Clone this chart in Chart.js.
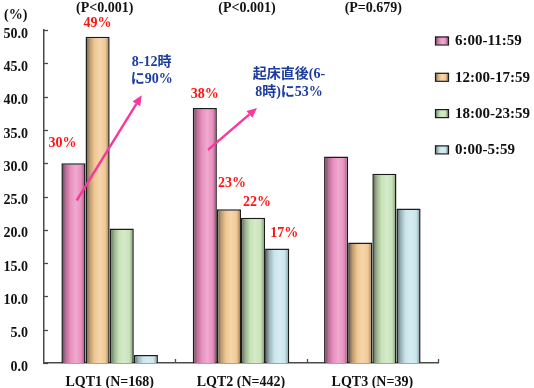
<!DOCTYPE html>
<html>
<head>
<meta charset="utf-8">
<script src="https://cdn.jsdelivr.net/npm/chart.js@4"></script>
<style>
html,body{margin:0;padding:0;background:#fff;}
#wrap{width:534px;height:388px;position:relative;}
</style>
</head>
<body>
<div id="wrap"><canvas id="c" width="534" height="388"></canvas></div>
<script>
// ---- data ----
const categories = ['LQT1 (N=168)', 'LQT2 (N=442)', 'LQT3 (N=39)'];
const seriesLabels = ['6:00-11:59', '12:00-17:59', '18:00-23:59', '0:00-5:59'];
const morning   = [30.0, 38.3, 31.0];
const afternoon = [49.0, 23.1, 18.1];
const evening   = [20.2, 21.8, 28.4];
const night     = [1.2, 17.2, 23.2];
const pValues   = ['(P<0.001)', '(P<0.001)', '(P=0.679)'];
const pctTexts  = ['30%', '49%', '38%', '23%', '22%', '17%'];
const noteLQT1  = ['8-12時', 'に90%'];
const noteLQT2  = ['起床直後(6-', '8時)に53%'];
const yMin = 0, yMax = 50, yStep = 5;

// ---- styles ----
const baseColors = ['#e98fbf', '#f2c892', '#c7e3b7', '#c8e6ec'];
const FONT = "'Liberation Serif', 'Times New Roman', 'Noto Sans CJK JP', serif";

function mix(hex, t, target) {
  const n = parseInt(hex.slice(1), 16);
  let r = n >> 16, g = (n >> 8) & 255, b = n & 255;
  r = Math.round(r + (target - r) * t);
  g = Math.round(g + (target - g) * t);
  b = Math.round(b + (target - b) * t);
  return 'rgb(' + r + ',' + g + ',' + b + ')';
}
function cylGradient(ctx, x0, x1, base) {
  const g = ctx.createLinearGradient(x0, 0, x1, 0);
  g.addColorStop(0, mix(base, 0.58, 0));
  g.addColorStop(0.18, mix(base, 0.22, 0));
  g.addColorStop(0.38, base);
  g.addColorStop(0.6, mix(base, 0.25, 255));
  g.addColorStop(0.82, base);
  g.addColorStop(1, mix(base, 0.4, 0));
  return g;
}

const CAT_PCT = 0.735;
function barBg(dsIndex) {
  return function (c) {
    const chart = c.chart;
    const xs = chart.scales && chart.scales.x;
    if (!xs || c.dataIndex === undefined || !chart.chartArea) return baseColors[dsIndex];
    const cw = xs.width / categories.length;
    const bw = cw * CAT_PCT / seriesLabels.length;
    const cx = xs.getPixelForValue(c.dataIndex);
    const left = cx - cw * CAT_PCT / 2 + dsIndex * bw;
    return cylGradient(chart.ctx, left, left + bw, baseColors[dsIndex]);
  };
}

const seriesData = [morning, afternoon, evening, night];
const datasets = seriesData.map((d, i) => ({
  label: seriesLabels[i],
  data: d,
  backgroundColor: barBg(i),
  borderColor: '#1c1c1c',
  borderWidth: 1.5,
  borderSkipped: 'bottom',
  categoryPercentage: CAT_PCT,
  barPercentage: 1.0
}));

const annotPlugin = {
  id: 'annot',
  afterDraw(chart) {
    const ctx = chart.ctx;
    const xs = chart.scales.x, ys = chart.scales.y;
    const area = chart.chartArea;
    ctx.save();
    // inward tick marks
    ctx.strokeStyle = '#4a4a4a';
    ctx.lineWidth = 1.3;
    ys.ticks.forEach(t => {
      const y = Math.round(ys.getPixelForValue(t.value)) + 0.5;
      ctx.beginPath(); ctx.moveTo(area.left, y); ctx.lineTo(area.left + 4, y); ctx.stroke();
    });
    const cw = xs.width / categories.length;
    for (let i = 1; i <= categories.length; i++) {
      const x = Math.round(area.left + cw * i) + 0.5;
      ctx.beginPath(); ctx.moveTo(x, area.bottom); ctx.lineTo(x, area.bottom - 4); ctx.stroke();
    }
    // (%) label
    ctx.fillStyle = '#111';
    ctx.font = 'bold 14px ' + FONT;
    ctx.textAlign = 'left'; ctx.textBaseline = 'middle';
    ctx.fillText('(%)', 4, 15);
    // p-values
    const pdx = [-5, 6, 1];
    ctx.textAlign = 'center';
    pValues.forEach((p, i) => ctx.fillText(p, xs.getPixelForValue(i) + pdx[i], 8));
    // red % labels anchored to bars
    const anchors = [[0, 0, -11, -20], [1, 0, 0, -13], [0, 1, 0, -14], [1, 1, 3, -26], [2, 1, 4, -15], [3, 1, 7, -15]];
    ctx.fillStyle = '#ff1414';
    ctx.font = 'bold 14px ' + FONT;
    pctTexts.forEach((t, k) => {
      const a = anchors[k];
      const el = chart.getDatasetMeta(a[0]).data[a[1]];
      ctx.fillText(t, el.x + a[2], el.y + a[3]);
    });
    // blue notes
    ctx.fillStyle = '#1c3d9c';
    ctx.font = 'bold 14px ' + FONT;
    const c0 = xs.getPixelForValue(0), c1 = xs.getPixelForValue(1);
    ctx.fillText(noteLQT1[0], c0 + 42, 62);
    ctx.fillText(noteLQT1[1], c0 + 42, 79);
    ctx.fillText(noteLQT2[0], c1 + 48, 74);
    ctx.fillText(noteLQT2[1], c1 + 48, 92);
    // arrows
    function arrow(x0, y0, x1, y1) {
      const ang = Math.atan2(y1 - y0, x1 - x0);
      const hl = 10, hw = 4.5;
      const bx = x1 - hl * Math.cos(ang), by = y1 - hl * Math.sin(ang);
      ctx.strokeStyle = '#f7389c'; ctx.fillStyle = '#f7389c';
      ctx.lineWidth = 2.4;
      ctx.beginPath(); ctx.moveTo(x0, y0); ctx.lineTo(bx, by); ctx.stroke();
      ctx.beginPath();
      ctx.moveTo(x1, y1);
      ctx.lineTo(bx + hw * Math.sin(ang), by - hw * Math.cos(ang));
      ctx.lineTo(bx - hw * Math.sin(ang), by + hw * Math.cos(ang));
      ctx.closePath(); ctx.fill();
    }
    arrow(c0 - 33, ys.getPixelForValue(24.4), c0 + 32, ys.getPixelForValue(40.2));
    arrow(c1 - 33, ys.getPixelForValue(32.0), c1 + 16, ys.getPixelForValue(38.3));
    // legend
    const rowY = [40.5, 76.8, 113.1, 149.4];
    ctx.font = 'bold 15px ' + FONT;
    ctx.textAlign = 'left';
    seriesLabels.forEach((s, i) => {
      const bx = 435, by = rowY[i] - 4, bw = 13, bh = 8;
      ctx.fillStyle = cylGradient(ctx, bx, bx + bw, baseColors[i]);
      ctx.fillRect(bx, by, bw, bh);
      ctx.strokeStyle = '#1c1c1c'; ctx.lineWidth = 1.2;
      ctx.strokeRect(bx + 0.5, by + 0.5, bw, bh);
      ctx.fillStyle = '#111';
      ctx.fillText(s, 455, rowY[i] + 1);
    });
    ctx.restore();
  }
};

new Chart(document.getElementById('c'), {
  type: 'bar',
  data: { labels: categories, datasets: datasets },
  options: {
    responsive: false,
    animation: false,
    layout: { padding: { top: 30, right: 96, left: 0, bottom: 0 } },
    plugins: { legend: { display: false }, tooltip: { enabled: false } },
    scales: {
      x: {
        grid: { display: false, drawTicks: false },
        border: { display: true, color: '#4a4a4a', width: 1.5 },
        ticks: { color: '#111', font: { family: FONT, size: 14, weight: 'bold' }, padding: 11 },
        afterFit(s) { s.height = 25; }
      },
      y: {
        min: yMin, max: yMax,
        grid: { display: false, drawTicks: false },
        border: { display: true, color: '#4a4a4a', width: 1.5 },
        ticks: {
          stepSize: yStep, color: '#111', padding: 16, labelOffset: 4,
          font: { family: FONT, size: 14, weight: 'bold' },
          callback: v => Number(v).toFixed(1)
        },
        afterFit(s) { s.width = 44; }
      }
    }
  },
  plugins: [annotPlugin]
});
</script>
</body>
</html>
